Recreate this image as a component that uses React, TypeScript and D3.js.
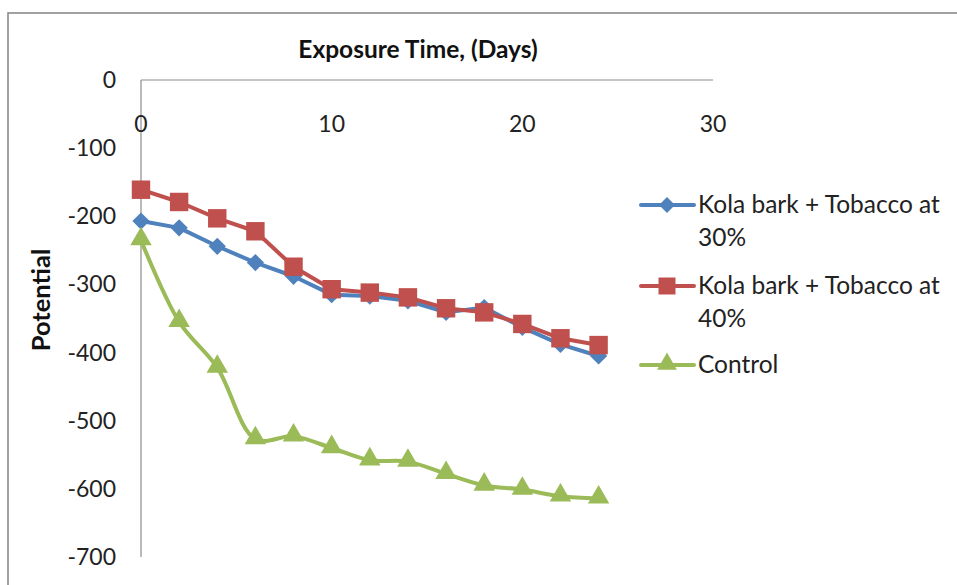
import React from "react";
import * as d3 from "d3";

const days = [0, 2, 4, 6, 8, 10, 12, 14, 16, 18, 20, 22, 24];
const kola30 = [-207, -217, -244, -268, -288, -315, -317, -324, -341, -334, -363, -388, -405];
const kola40 = [-161, -179, -203, -222, -274, -307, -312, -319, -335, -341, -358, -379, -389];
const control = [-235, -355, -422, -527, -523, -540, -558, -560, -578, -595, -601, -611, -614];

const xTicks = [0, 10, 20, 30];
const yTicks = [0, -100, -200, -300, -400, -500, -600, -700];

const seriesNames = ["Kola bark + Tobacco at 30%", "Kola bark + Tobacco at 40%", "Control"];
const seriesColors = ["#4F81BD", "#C0504D", "#9BBB59"];
const seriesSymbols = [d3.symbolDiamond2, d3.symbolSquare, d3.symbolTriangle];

const W = 957;
const H = 585;
const FONT = "Lato, 'Open Sans', sans-serif";

export default function App() {
  const x = d3.scaleLinear().domain([0, 30]).range([141, 713]);
  const y = d3.scaleLinear().domain([0, -700]).range([80, 557]);

  const series = [kola30, kola40, control].map((vals, i) => ({
    name: seriesNames[i],
    color: seriesColors[i],
    symbol: seriesSymbols[i],
    points: days.map((d, j) => [d, vals[j]] as [number, number]),
    smooth: i === 2,
  }));

  const straight = d3
    .line<[number, number]>()
    .x((p) => x(p[0]))
    .y((p) => y(p[1]));
  const smooth = d3
    .line<[number, number]>()
    .x((p) => x(p[0]))
    .y((p) => y(p[1]))
    .curve(d3.curveCatmullRom.alpha(0.5));

  const symbolPath = (sym: d3.SymbolType, size: number) => d3.symbol().type(sym).size(size)() || "";
  const markerSize = [190, 340, 200];
  const symOffset = [0, 0, -1];

  const legendRows = [
    { lines: ["Kola bark + Tobacco at", "30%"], y: 205 },
    { lines: ["Kola bark + Tobacco at", "40%"], y: 286 },
    { lines: ["Control"], y: 365 },
  ];

  return (
    <svg
      width={W}
      height={H}
      style={{ position: "absolute", left: 0, top: 0, background: "#fff" }}
      fontFamily={FONT}
    >
      <rect x={0} y={0} width={W} height={H} fill="#fff" />
      <rect x={8} y={13} width={W + 20} height={H + 20} fill="none" stroke="#8a8a8a" strokeWidth={1.6} />

      {/* axes */}
      <line x1={x(0)} x2={x(30)} y1={y(0)} y2={y(0)} stroke="#8c8c8c" strokeWidth={1.2} />
      <line x1={x(0)} x2={x(0)} y1={y(0)} y2={y(-700)} stroke="#8c8c8c" strokeWidth={1.2} />

      {xTicks.map((t) => (
        <text key={"x" + t} x={x(t)} y={132} textAnchor="middle" fontSize={23} fill="#222">
          {t}
        </text>
      ))}
      {yTicks.map((t) => (
        <text key={"y" + t} x={116} y={y(t) + 8} textAnchor="end" fontSize={23} fill="#222">
          {t}
        </text>
      ))}

      <text x={418} y={58} textAnchor="middle" fontSize={24.5} fontWeight={700} fill="#111">
        Exposure Time, (Days)
      </text>
      <text
        transform={`translate(50, 300) rotate(-90)`}
        textAnchor="middle"
        fontSize={25.5}
        fontWeight={700}
        fill="#111"
      >
        Potential
      </text>

      {/* series */}
      {series.map((s, i) => (
        <g key={s.name}>
          <path
            d={(s.smooth ? smooth : straight)(s.points) || ""}
            fill="none"
            stroke={s.color}
            strokeWidth={4}
            strokeLinejoin="round"
            strokeLinecap="round"
          />
          {s.points.map((p, j) => (
            <path
              key={j}
              d={symbolPath(s.symbol, markerSize[i])}
              transform={`translate(${x(p[0])},${y(p[1]) + symOffset[i]})`}
              fill={s.color}
            />
          ))}
        </g>
      ))}

      {/* legend */}
      {legendRows.map((r, i) => (
        <g key={"lg" + i}>
          <line x1={641} x2={694} y1={r.y} y2={r.y} stroke={seriesColors[i]} strokeWidth={4} strokeLinecap="round" />
          <path
            d={symbolPath(seriesSymbols[i], markerSize[i] * 0.85)}
            transform={`translate(667,${r.y + symOffset[i]})`}
            fill={seriesColors[i]}
          />
          {r.lines.map((ln, k) => (
            <text key={k} x={698} y={r.y + 8 + k * 33} fontSize={24.5} fill="#222">
              {ln}
            </text>
          ))}
        </g>
      ))}
    </svg>
  );
}
